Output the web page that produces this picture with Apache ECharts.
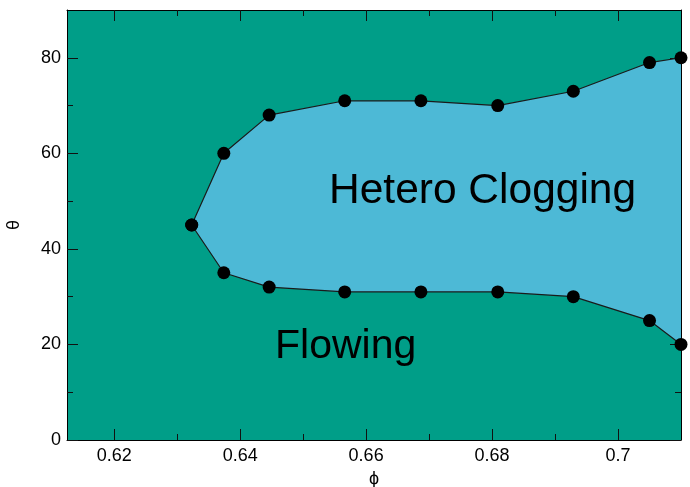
<!DOCTYPE html>
<html>
<head>
<meta charset="utf-8">
<script src="https://cdn.jsdelivr.net/npm/echarts@6/dist/echarts.min.js"></script>
<style>html,body{margin:0;padding:0;background:#fff;}#c{width:690px;height:487px;}</style>
</head>
<body>
<div id="c"></div>
<script>
// Boundary of the hetero-clogging region
var phiUpper = [0.6323, 0.6374, 0.6446, 0.6566, 0.6687, 0.6809, 0.6929, 0.7050, 0.7100];
var thetaUpper = [45, 60, 68, 71, 71, 70, 73, 79, 80];
var phiLower = [0.6323, 0.6374, 0.6446, 0.6566, 0.6687, 0.6809, 0.6929, 0.7050, 0.7100];
var thetaLower = [45, 35, 32, 31, 31, 31, 30, 25, 20];

var xMajor = [0.62, 0.64, 0.66, 0.68, 0.7];
var xMinor = [0.63, 0.65, 0.67, 0.69];
var yMajor = [0, 20, 40, 60, 80];
var yMinor = [10, 30, 50, 70];
var xRange = [0.6125, 0.71];
var yRange = [0, 90];

var FONT = 'Liberation Sans, Arial, Helvetica, sans-serif';
var TEAL = '#009e88';
var BLUE = '#4db9d6';

var upper = phiUpper.map(function (p, i) { return [p, thetaUpper[i]]; });
var lower = phiLower.map(function (p, i) { return [p, thetaLower[i]]; });
var allPts = upper.concat(lower);

function xAx(pos, ticks, len, labels, line, extra) {
  var a = {
    type: 'value', position: pos, min: xRange[0], max: xRange[1],
    splitLine: { show: false },
    axisLine: { show: line, onZero: false, lineStyle: { color: '#000', width: 1 } },
    axisTick: { show: true, inside: true, length: len, customValues: ticks, lineStyle: { color: '#111', width: 1 } },
    axisLabel: { show: labels, customValues: ticks, color: '#000', fontSize: 18, fontFamily: FONT, margin: 7 }
  };
  return Object.assign(a, extra || {});
}
function yAx(pos, ticks, len, labels, line, extra) {
  var a = {
    type: 'value', position: pos, min: yRange[0], max: yRange[1],
    splitLine: { show: false },
    axisLine: { show: line, onZero: false, lineStyle: { color: '#000', width: 1 } },
    axisTick: { show: true, inside: true, length: len, customValues: ticks, lineStyle: { color: '#111', width: 1 } },
    axisLabel: { show: labels, customValues: ticks, color: '#000', fontSize: 18, fontFamily: FONT, margin: 6 }
  };
  return Object.assign(a, extra || {});
}

var chart = echarts.init(document.getElementById('c'), null, { renderer: 'canvas' });
chart.setOption({
  animation: false,
  backgroundColor: '#fff',
  grid: { left: 67, right: 9, top: 10, bottom: 47, show: true, backgroundColor: TEAL, borderWidth: 0,
          containLabel: false, outerBoundsMode: 'none' },
  xAxis: [
    xAx('bottom', xMajor, 11, true, true, {
      name: 'ϕ', nameLocation: 'middle', nameGap: 30,
      nameTextStyle: { color: '#000', fontSize: 18, fontFamily: FONT }
    }),
    xAx('bottom', xMinor, 6, false, false),
    xAx('top', xMajor, 11, false, true),
    xAx('top', xMinor, 6, false, false)
  ],
  yAxis: [
    yAx('left', yMajor, 11, true, true, {
      name: 'θ', nameLocation: 'middle', nameGap: 44,
      nameTextStyle: { color: '#000', fontSize: 18, fontFamily: FONT }
    }),
    yAx('left', yMinor, 6, false, false),
    yAx('right', yMajor, 11, false, true),
    yAx('right', yMinor, 6, false, false)
  ],
  series: [
    {
      type: 'custom', xAxisIndex: 0, yAxisIndex: 0, silent: true, z: 1,
      data: [[0]],
      renderItem: function (params, api) {
        var pts = upper.map(function (d) { return api.coord(d); });
        for (var i = lower.length - 1; i >= 0; i--) pts.push(api.coord(lower[i]));
        return { type: 'polygon', shape: { points: pts }, style: { fill: BLUE, stroke: null } };
      }
    },
    {
      type: 'line', data: upper, symbol: 'none', z: 2, silent: true,
      lineStyle: { color: '#1a1a1a', width: 1.2 }
    },
    {
      type: 'line', data: lower, symbol: 'none', z: 2, silent: true,
      lineStyle: { color: '#1a1a1a', width: 1.2 }
    },
    {
      type: 'scatter', data: allPts, symbol: 'circle', symbolSize: 13, z: 3, clip: false,
      itemStyle: { color: '#000', opacity: 1 }
    }
  ],
  graphic: [
    { type: 'text', left: 329, top: 170, z: 10,
      style: { text: 'Hetero Clogging', fill: '#000', font: '42.5px ' + FONT } },
    { type: 'text', left: 275, top: 326, z: 10,
      style: { text: 'Flowing', fill: '#000', font: '41px ' + FONT } }
  ]
});
</script>
</body>
</html>
